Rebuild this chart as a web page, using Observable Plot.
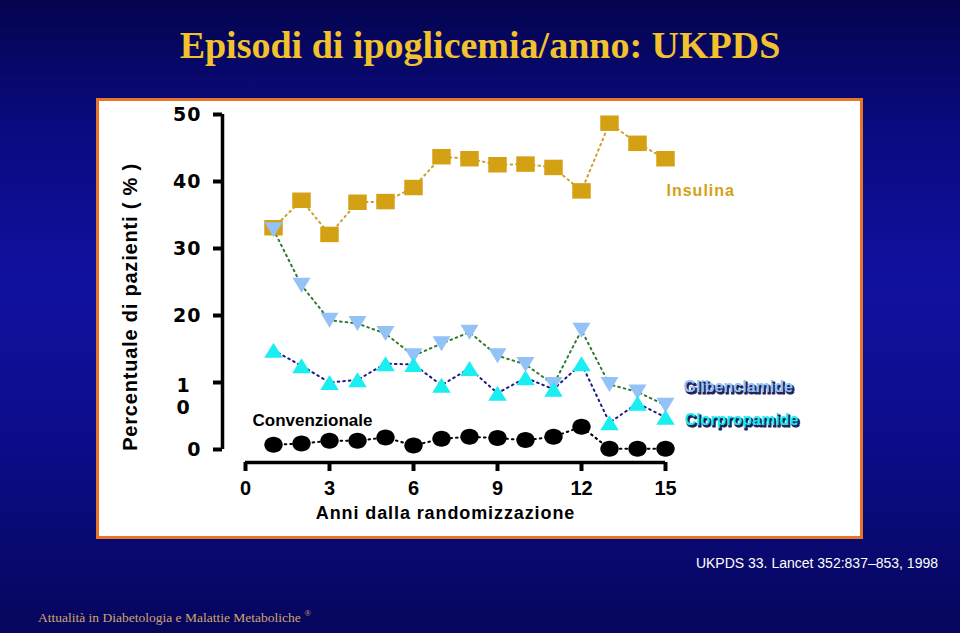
<!DOCTYPE html>
<html>
<head>
<meta charset="utf-8">
<script src="https://cdn.jsdelivr.net/npm/d3@7"></script>
<script src="https://cdn.jsdelivr.net/npm/@observablehq/plot@0.6"></script>
<style>
html, body { margin: 0; padding: 0; }
body {
  width: 960px; height: 633px; overflow: hidden; position: relative;
  background: linear-gradient(180deg, #04044e 0%, #0a0a80 20%, #1111a0 45%, #0c0c8a 70%, #06065c 100%);
  font-family: "Liberation Sans", Arial, sans-serif;
}
#title {
  position: absolute; left: 0; width: 960px; top: 26px; text-align: center;
  font-family: "Liberation Serif", "Times New Roman", serif; font-weight: bold;
  font-size: 38px; line-height: 38px; color: #f2c12e;
}
#panel {
  position: absolute; left: 96px; top: 98px; width: 761px; height: 435px;
  border: 3px solid #e8742a; background: #fff;
}
#panel svg { display: block; }
#source {
  position: absolute; right: 22px; top: 555px; color: #fff; font-size: 14px;
  font-family: "Liberation Sans", sans-serif;
}
#footer {
  position: absolute; left: 38px; top: 608px; color: #cfa56c;
  font-family: "Liberation Serif", serif; font-size: 13.5px;
}
#footer sup { font-size: 9px; }
</style>
</head>
<body>
<div id="title">Episodi di ipoglicemia/anno: UKPDS</div>
<div id="panel"></div>
<div id="source">UKPDS 33. Lancet 352:837–853, 1998</div>
<div id="footer">Attualità in Diabetologia e Malattie Metaboliche <sup>®</sup></div>
<script>
// ---- data ----
const years = [1, 2, 3, 4, 5, 6, 7, 8, 9, 10, 11, 12, 13, 14, 15];
const insulina      = [33.1, 37.2, 32.1, 36.9, 37.0, 39.1, 43.7, 43.4, 42.5, 42.6, 42.1, 38.6, 48.7, 45.7, 43.4];
const glibenclamide = [32.8, 24.5, 19.3, 18.8, 17.3, 14.0, 15.8, 17.5, 14.0, 12.7, 9.7, 17.8, 9.7, 8.6, 6.6];
const clorpropamide = [14.8, 12.5, 10.0, 10.4, 12.8, 12.7, 9.6, 12.1, 8.4, 10.7, 9.0, 12.8, 4.0, 6.9, 4.8];
const convenzionale = [0.7, 0.9, 1.3, 1.3, 1.8, 0.6, 1.6, 1.9, 1.7, 1.4, 1.9, 3.4, 0.1, 0.1, 0.1];
const seriesNames = ["Insulina", "Glibenclamide", "Clorpropamide", "Convenzionale"];
const xTicks = [0, 3, 6, 9, 12, 15];
const yTicks = [0, 10, 20, 30, 40, 50];
const yTickLabels = ["0", "1\n0", "20", "30", "40", "50"];
const xLabel = "Anni dalla randomizzazione";
const yLabel = "Percentuale di pazienti ( % )";

// ---- build tables ----
const rows = vals => years.map((year, i) => ({year, value: vals[i]}));
const dIns = rows(insulina), dGli = rows(glibenclamide), dClo = rows(clorpropamide), dCon = rows(convenzionale);
const yTickRows = yTicks.map((v, i) => ({v, t: yTickLabels[i]}));

// ---- custom symbols ----
const rectSym = (w, h) => ({draw(c) { c.rect(-w / 2, -h / 2, w, h); }});
const triUp = (w, h) => ({draw(c) { c.moveTo(0, -h / 2); c.lineTo(w / 2, h / 2); c.lineTo(-w / 2, h / 2); c.closePath(); }});
const triDown = (w, h) => ({draw(c) { c.moveTo(0, h / 2); c.lineTo(w / 2, -h / 2); c.lineTo(-w / 2, -h / 2); c.closePath(); }});
const ellipseSym = (rx, ry) => ({draw(c) {
  const k = 0.5523;
  c.moveTo(rx, 0);
  c.bezierCurveTo(rx, ry * k, rx * k, ry, 0, ry);
  c.bezierCurveTo(-rx * k, ry, -rx, ry * k, -rx, 0);
  c.bezierCurveTo(-rx, -ry * k, -rx * k, -ry, 0, -ry);
  c.bezierCurveTo(rx * k, -ry, rx, -ry * k, rx, 0);
  c.closePath();
}});

const gold = "#d4a014", lightBlue = "#93c2f6", cyan = "#19eef0";
const dash = {strokeDasharray: "1.6,4", strokeWidth: 2};
const last = d => [d[d.length - 1]];

const chart = Plot.plot({
  width: 761,
  height: 435,
  marginLeft: 146,
  marginRight: 195,
  marginTop: 13,
  marginBottom: 87,
  x: {domain: [0, 15], label: null},
  y: {domain: [0, 50], label: null},
  style: {fontFamily: "'Liberation Sans', Arial, sans-serif", fontWeight: "bold", background: "#fff", color: "#000"},
  marks: [
    // y axis
    Plot.ruleX([0], {dx: -23, stroke: "#000", strokeWidth: 3.5}),
    Plot.axisY(yTicks, {anchor: "left", tickSize: 9, tickFormat: () => "", dx: -23, strokeWidth: 4, label: null}),
    Plot.text(yTickRows.filter(d => !d.t.includes("\n")), {y: "v", text: "t", frameAnchor: "left", dx: -44, textAnchor: "end", fontSize: 19, fontFamily: "DejaVu Sans", fill: "#000"}),
    Plot.text(yTickRows.filter(d => d.t.includes("\n")), {y: "v", text: "t", frameAnchor: "left", dx: -69, dy: -7, textAnchor: "start", lineAnchor: "top", lineHeight: 1.2, fontSize: 19, fontFamily: "DejaVu Sans", fill: "#000"}),
    Plot.text([yLabel], {frameAnchor: "left", dx: -115, dy: 25, rotate: -90, textAnchor: "middle", fontSize: 20, fill: "#000"}),
    // x axis
    Plot.ruleY([0], {dy: 13, stroke: "#000", strokeWidth: 3.5}),
    Plot.axisX(xTicks, {anchor: "bottom", tickSize: 9, tickPadding: 9, dy: 13, strokeWidth: 4, fontSize: 20, label: null}),
    Plot.text([xLabel], {frameAnchor: "bottom", dx: -10, dy: 69, fontSize: 18, fill: "#000"}),
    // lines
    Plot.line(dIns, {x: "year", y: "value", stroke: "#c9a030", ...dash}),
    Plot.line(dCon, {x: "year", y: "value", stroke: "#000", ...dash}),
    Plot.line(dGli, {x: "year", y: "value", stroke: "#2f7a30", ...dash}),
    Plot.line(dClo, {x: "year", y: "value", stroke: "#1a1a8a", ...dash}),
    // markers
    Plot.dot(dIns, {x: "year", y: "value", symbol: rectSym(18.5, 15.5), fill: gold, stroke: "none"}),
    Plot.dot(dCon, {x: "year", y: "value", symbol: ellipseSym(9.2, 8), fill: "#000", stroke: "none"}),
    Plot.dot(dGli, {x: "year", y: "value", symbol: triDown(18, 15), fill: lightBlue, stroke: "none"}),
    Plot.dot(dClo, {x: "year", y: "value", symbol: triUp(18.5, 15), fill: cyan, stroke: "none"}),
    // series labels
    Plot.text(last(dIns), {x: "year", y: "value", text: () => seriesNames[0], dx: 1, dy: 32, textAnchor: "start", fontSize: 16, fill: gold}),
    Plot.text(last(dGli), {x: "year", y: "value", text: () => seriesNames[1], dx: 19.5, dy: -16.5, textAnchor: "start", fontSize: 16, fill: "#22225a", stroke: "#22225a", strokeWidth: 1.2}),
    Plot.text(last(dGli), {x: "year", y: "value", text: () => seriesNames[1], dx: 18, dy: -18, textAnchor: "start", fontSize: 16, fill: lightBlue}),
    Plot.text(last(dClo), {x: "year", y: "value", text: () => seriesNames[2], dx: 20.5, dy: 4.5, textAnchor: "start", fontSize: 16, fill: "#22225a", stroke: "#22225a", strokeWidth: 1.2}),
    Plot.text(last(dClo), {x: "year", y: "value", text: () => seriesNames[2], dx: 19, dy: 3, textAnchor: "start", fontSize: 16, fill: cyan}),
    Plot.text(dCon.slice(0, 1), {x: "year", y: "value", text: () => seriesNames[3], dx: -21, dy: -24, textAnchor: "start", fontSize: 17, fill: "#000"})
  ]
});

const sel = d3.select(chart);
const spacing = {[yLabel]: "0.8px", [xLabel]: "0.9px", [seriesNames[0]]: "1px"};
sel.selectAll("text").each(function() {
  const s = spacing[this.textContent];
  if (s) this.setAttribute("letter-spacing", s);
});
sel.selectAll('g[font-family="DejaVu Sans"] text').attr("letter-spacing", "1px");
document.getElementById("panel").appendChild(chart);
</script>
</body>
</html>
